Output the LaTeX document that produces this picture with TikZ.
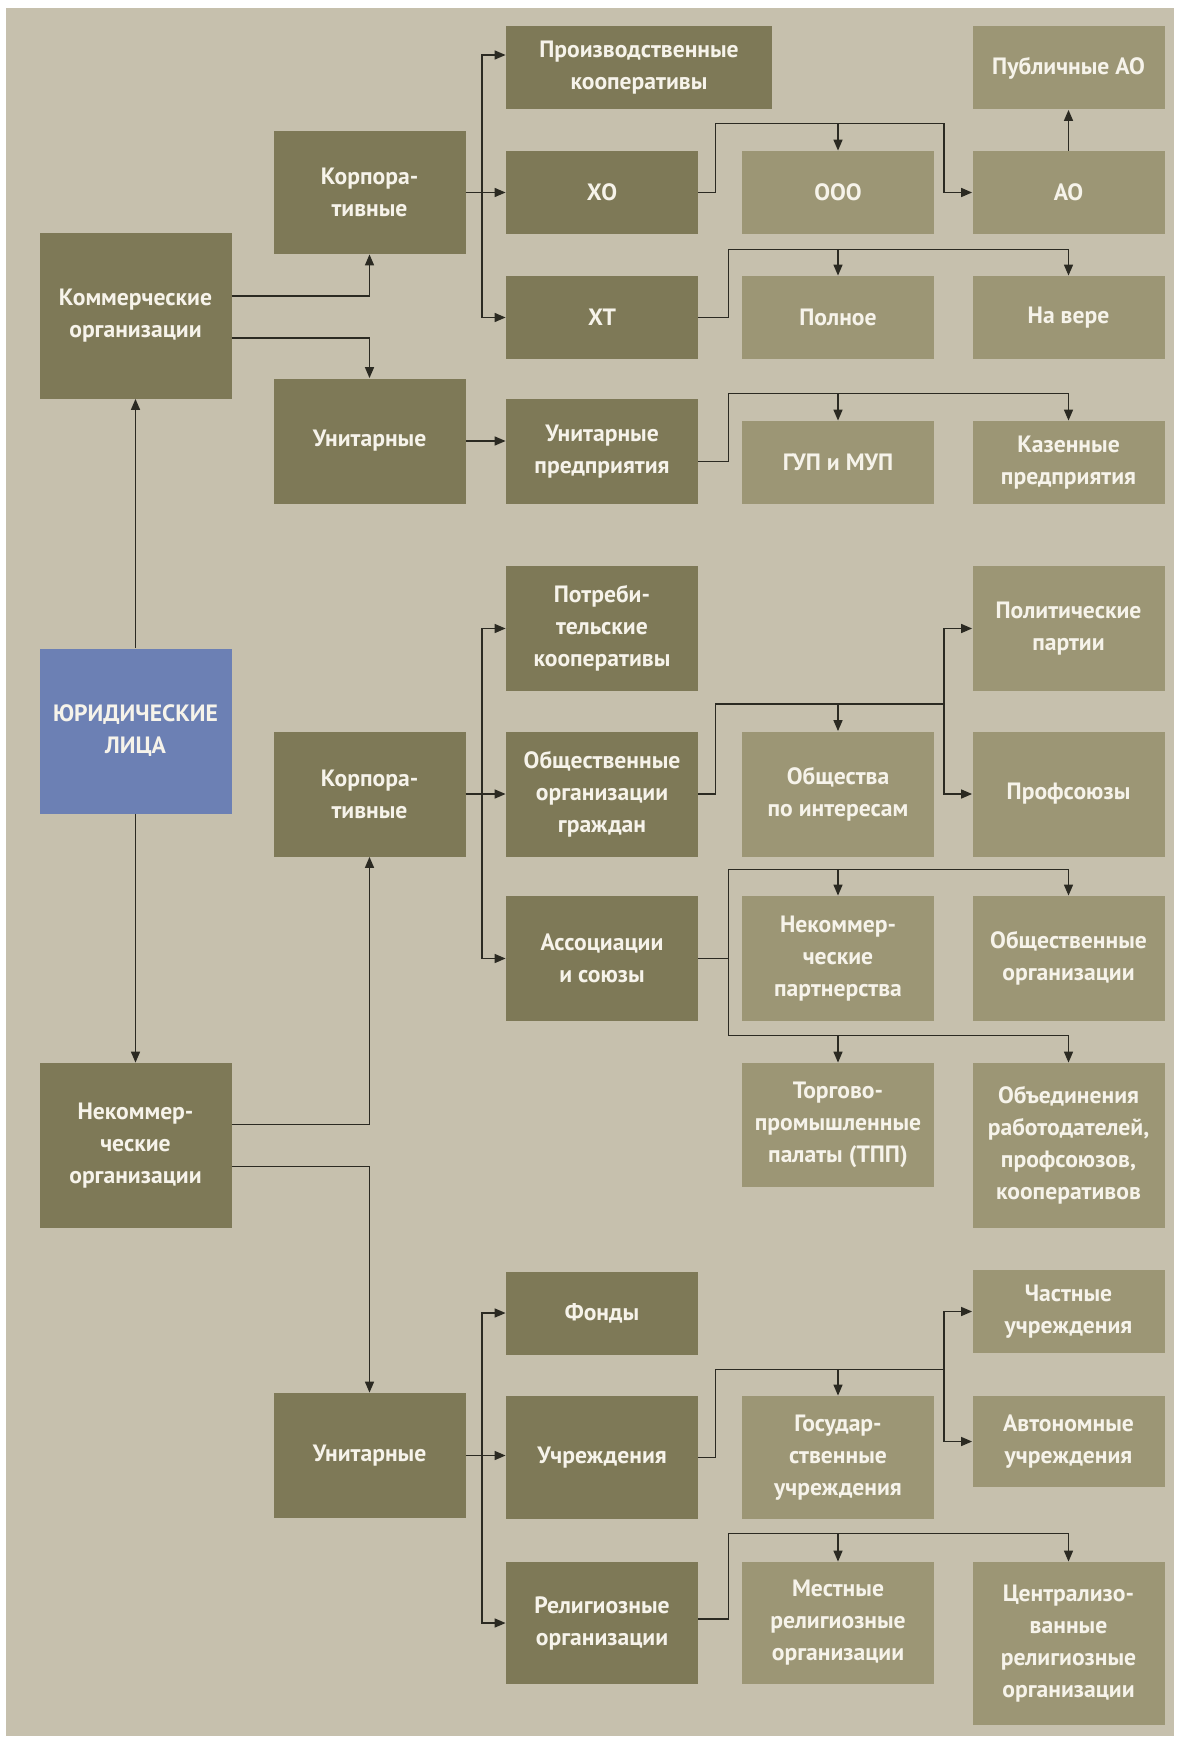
\documentclass[tikz,border=0pt]{standalone}
\usepackage{fontspec}
\setmainfont{PT Sans}
\usetikzlibrary{arrows.meta}
\definecolor{bg}{HTML}{C6C0AD}
\definecolor{dark}{HTML}{7E7957}
\definecolor{light}{HTML}{9C9675}
\definecolor{jurblue}{HTML}{6C80B4}
\definecolor{txt}{HTML}{F6F3EA}
\definecolor{ln}{HTML}{2B2A22}
\begin{document}
\begin{tikzpicture}[x=0.5pt,y=-0.5pt,>={Triangle[length=5.5pt,width=4.5pt]},
  box/.style={rectangle,fill=dark,text=txt,align=center,inner sep=0pt,minimum width=96pt,font=\fontsize{11.8}{16}\selectfont\bfseries},
  lbox/.style={box,fill=light},
  hs/.style={minimum height=41.5pt},
  hm/.style={minimum height=62.5pt},
  ht/.style={minimum height=82.5pt},
  arr/.style={->,draw=ln,line width=0.75pt}]
\fill[white] (0,0) rectangle (1189,1744);
\fill[bg] (6,8) rectangle (1174,1736);

% left column
\node[box,ht,fill=jurblue] (jur) at (135.5,731) {ЮРИДИЧЕСКИЕ\\ЛИЦА};
\node[box,ht] (komm) at (135.5,316) {Коммерческие\\организации};
\node[box,ht] (nekomm) at (135.5,1145.5) {Некоммер-\\ческие\\организации};

% commercial
\node[box,hs,minimum width=133pt] (proizv) at (639,68) {Производственные\\кооперативы};
\node[lbox,hs] (pubao) at (1068.5,68) {Публичные АО};
\node[box,minimum height=61.5pt] (korp1) at (369.5,192.5) {Корпора-\\тивные};
\node[box,hs] (xo) at (602,192.5) {ХО};
\node[lbox,hs] (ooo) at (838,192.5) {ООО};
\node[lbox,hs] (ao) at (1068.5,192.5) {АО};
\node[box,hs] (xt) at (602,317.5) {ХТ};
\node[lbox,hs] (polnoe) at (838,317.5) {Полное};
\node[lbox,hs] (naver) at (1068.5,317.5) {На вере};
\node[box,hm] (unit1) at (369.5,441) {Унитарные};
\node[box,minimum height=52.5pt] (unitpred) at (602,451.5) {Унитарные\\предприятия};
\node[lbox,hs] (gup) at (838,462.5) {ГУП и МУП};
\node[lbox,hs] (kazen) at (1068.5,462.5) {Казенные\\предприятия};

% non-commercial, corporate
\node[box,hm] (potreb) at (602,628.5) {Потреби-\\тельские\\кооперативы};
\node[lbox,hm] (polit) at (1068.5,628.5) {Политические\\партии};
\node[box,hm] (korp2) at (369.5,794) {Корпора-\\тивные};
\node[box,hm] (obsch) at (602,794) {Общественные\\организации\\граждан};
\node[lbox,hm] (obshint) at (838,794) {Общества\\по интересам};
\node[lbox,hm] (prof) at (1068.5,794) {Профсоюзы};
\node[box,hm] (assoc) at (602,958.5) {Ассоциации\\и союзы};
\node[lbox,hm] (nekp) at (838,958.5) {Некоммер-\\ческие\\партнерства};
\node[lbox,hm] (obshorg) at (1068.5,958.5) {Общественные\\организации};
\node[lbox,minimum height=62pt] (tpp) at (838,1125) {Торгово-\\промышленные\\палаты (ТПП)};
\node[lbox,ht] (obyed) at (1068.5,1145.5) {Объединения\\работодателей,\\профсоюзов,\\кооперативов};

% non-commercial, unitary
\node[box,hs] (fondy) at (602,1313) {Фонды};
\node[lbox,hs] (chast) at (1068.5,1311.5) {Частные\\учреждения};
\node[box,hm] (unit2) at (369.5,1455.5) {Унитарные};
\node[box,minimum height=61.5pt] (uchr) at (602,1457.5) {Учреждения};
\node[lbox,minimum height=61.5pt] (gosu) at (838,1457.5) {Государ-\\ственные\\учреждения};
\node[lbox,minimum height=45.5pt] (avton) at (1068.5,1441.5) {Автономные\\учреждения};
\node[box,minimum height=61pt] (relig) at (602,1623) {Религиозные\\организации};
\node[lbox,minimum height=61pt] (mestn) at (838,1623) {Местные\\религиозные\\организации};
\node[lbox,minimum height=81.5pt] (centr) at (1068.5,1643.5) {Централизо-\\ванные\\религиозные\\организации};

\draw[arr] (jur.north) -- (komm.south);
\draw[arr] (jur.south) -- (nekomm.north);

\draw[arr] ([yshift=10pt]komm.east) -| (korp1.south);
\draw[arr] ([yshift=-11pt]komm.east) -| (unit1.north);
\draw[arr] (korp1.east) -- ++(16,0) |- ([yshift=6.5pt]proizv.west);
\draw[arr] (korp1.east) -- (xo.west);
\draw[arr] (korp1.east) -- ++(16,0) |- (xt.west);
\draw[arr] (xo.east) -- ++(17,0) |- ([yshift=13.5pt]ooo.north) -| ([xshift=-14pt]ao.west) -- (ao.west);
\draw[arr] ([yshift=13.5pt]ooo.north) -- (ooo.north);
\draw[arr] (ao.north) -- (pubao.south);
\draw[arr] (xt.east) -- ++(30,0) |- ([yshift=13pt]naver.north) -- (naver.north);
\draw[arr] ([yshift=13pt]polnoe.north) -- (polnoe.north);
\draw[arr] (unit1.east) -- (unit1.east -| unitpred.west);
\draw[arr] ([yshift=-5pt]unitpred.east) -- ++(30,0) |- ([yshift=13.5pt]kazen.north) -- (kazen.north);
\draw[arr] ([yshift=13.5pt]gup.north) -- (gup.north);

\draw[arr] ([yshift=10.5pt]nekomm.east) -| (korp2.south);
\draw[arr] ([yshift=-10.5pt]nekomm.east) -| (unit2.north);
\draw[arr] (korp2.east) -- ++(16,0) |- (potreb.west);
\draw[arr] (korp2.east) -- (obsch.west);
\draw[arr] (korp2.east) -- ++(16,0) |- (assoc.west);
\draw[arr] (obsch.east) -- ++(17,0) |- ([yshift=13.5pt]obshint.north) -| ([xshift=-14pt]polit.west) -- (polit.west);
\draw[arr] ([xshift=-14pt]polit.west) |- (prof.west);
\draw[arr] ([yshift=13.5pt]obshint.north) -- (obshint.north);
\draw[arr] (assoc.east) -- ++(30,0) |- ([yshift=13pt]obshorg.north) -- (obshorg.north);
\draw[arr] (assoc.east) -- ++(30,0) |- ([yshift=13.5pt]obyed.north) -- (obyed.north);
\draw[arr] ([yshift=13pt]nekp.north) -- (nekp.north);
\draw[arr] ([yshift=13.5pt]tpp.north) -- (tpp.north);

\draw[arr] (unit2.east) -- ++(16,0) |- (fondy.west);
\draw[arr] (unit2.east) -- (unit2.east -| uchr.west);
\draw[arr] (unit2.east) -- ++(16,0) |- (relig.west);
\draw[arr] (uchr.east) -- ++(17,0) |- ([yshift=13pt]gosu.north) -| ([xshift=-14pt]chast.west) -- (chast.west);
\draw[arr] ([xshift=-14pt]chast.west) |- (avton.west);
\draw[arr] ([yshift=13pt]gosu.north) -- (gosu.north);
\draw[arr] ([yshift=2pt]relig.east) -- ++(30,0) |- ([yshift=14pt]centr.north) -- (centr.north);
\draw[arr] ([yshift=14pt]mestn.north) -- (mestn.north);

\end{tikzpicture}
\end{document}
